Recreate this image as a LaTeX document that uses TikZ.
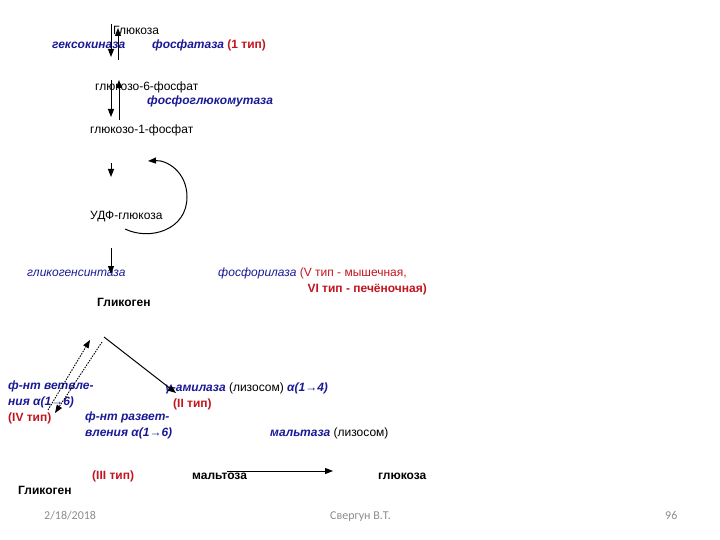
\documentclass[tikz,border=0pt]{standalone}
\usepackage{fontspec}
\setmainfont{Liberation Sans}
\newfontfamily\footfont{Carlito}
\usetikzlibrary{arrows.meta}
\definecolor{enzcol}{RGB}{25,25,150}
\definecolor{typcol}{RGB}{195,20,30}
\definecolor{footcol}{RGB}{140,140,140}
\newcommand{\enzb}[1]{{\color{enzcol}\bfseries\itshape #1}}
\newcommand{\enzr}[1]{{\color{enzcol}\itshape #1}}
\newcommand{\typb}[1]{{\color{typcol}\bfseries #1}}
\newcommand{\typr}[1]{{\color{typcol}#1}}
\begin{document}
\begin{tikzpicture}[x=1pt,y=-1pt,
  lbl/.style={anchor=west,inner sep=0pt,font=\fontsize{12}{14}\selectfont},
  blbl/.style={lbl,font=\fontsize{12}{14}\selectfont\bfseries},
  foot/.style={anchor=base west,inner sep=0pt,font=\footfont\fontsize{12}{14}\selectfont,text=footcol},
  arr/.style={-{Triangle[length=8pt,width=6pt]},line width=1pt},
  dsh/.style={dash pattern=on 1.5pt off 1.2pt,line width=0.9pt}]
\useasboundingbox (0,0) rectangle (720,540);
% labels
\node[lbl] (glc) at (113,30) {Глюкоза};
\node[lbl] (hk) at (52,45) {\enzb{гексокиназа}};
\node[lbl] (fosf) at (152,45) {\enzb{фосфатаза} \typb{(1 тип)}};
\node[lbl] (g6p) at (95,87) {глюкозо-6-фосфат};
\node[lbl] (pgm) at (147,101) {\enzb{фосфоглюкомутаза}};
\node[lbl] (g1p) at (90,130) {глюкозо-1-фосфат};
\node[lbl] (udp) at (90,217) {УДФ-глюкоза};
\node[lbl] (gs) at (27,273) {\enzr{гликогенсинтаза}};
\node[lbl] (ph1) at (218,273) {\enzr{фосфорилаза} \typr{(V тип - мышечная,}};
\node[lbl,anchor=east] (ph2) at (427,289) {\typb{VI тип - печёночная)}};
\node[blbl] (glyc) at (97,302) {Гликоген};
\node[lbl] (br1) at (8,386) {\enzb{ф-нт ветвле-}};
\node[lbl] (br2) at (8,402) {\enzb{ния α(1→6)}};
\node[lbl] (br3) at (8,418) {\typb{(IV тип)}};
\node[lbl] (db1) at (85,417) {\enzb{ф-нт развет-}};
\node[lbl] (db2) at (85,433) {\enzb{вления α(1→6)}};
\node[lbl] (amy) at (165,388) {\enzb{γ-амилаза} (лизосом) \enzb{α(1→4)}};
\node[lbl] (amyt) at (173,404) {\typb{(II тип)}};
\node[lbl] (malt) at (270,433) {\enzb{мальтаза} (лизосом)};
\node[lbl] (t3) at (92,476) {\typb{(III тип)}};
\node[blbl] (mal) at (192,476) {мальтоза};
\node[blbl] (glc2) at (378,476) {глюкоза};
\node[blbl] (glyc2) at (18,490) {Гликоген};
\node[foot] (date) at (44,519) {2/18/2018};
\node[foot] (auth) at (330,519) {Свергун В.Т.};
\node[foot] (page) at (665,519) {96};
% arrow end points
\coordinate (a1s) at (111,24);  \coordinate (a1e) at (111,57);
\coordinate (a2s) at (118,60);  \coordinate (a2e) at (118,28);
\coordinate (a3s) at (111,80);  \coordinate (a3e) at (111,117);
\coordinate (a4s) at (119,120); \coordinate (a4e) at (119,80);
\coordinate (a5s) at (111,163); \coordinate (a5e) at (111,177);
\coordinate (a6s) at (111,248); \coordinate (a6e) at (111,274);
\coordinate (cs) at (125,229);  \coordinate (cm) at (187,197); \coordinate (ce) at (148,161);
\coordinate (d1s) at (48,410);  \coordinate (d1e) at (90,340);
\coordinate (d2s) at (102,342); \coordinate (d2e) at (55,413);
\coordinate (s1s) at (104,337); \coordinate (s1e) at (176,393);
\coordinate (m1s) at (227,471); \coordinate (m1e) at (333,471);
% arrows
\draw[arr] (a1s) -- (a1e);
\draw[arr] (a2s) -- (a2e);
\draw[arr] (a3s) -- (a3e);
\draw[arr] (a4s) -- (a4e);
\draw[arr] (a5s) -- (a5e);
\draw[arr] (a6s) -- (a6e);
\draw[arr] (cs) .. controls (150,241) and (187,230) .. (cm) .. controls (187,172) and (167,160) .. (ce);
\draw[arr,dsh] (d1s) -- (d1e);
\draw[arr,dsh] (d2s) -- (d2e);
\draw[arr] (s1s) -- (s1e);
\draw[arr] (m1s) -- (m1e);
\end{tikzpicture}
\end{document}
